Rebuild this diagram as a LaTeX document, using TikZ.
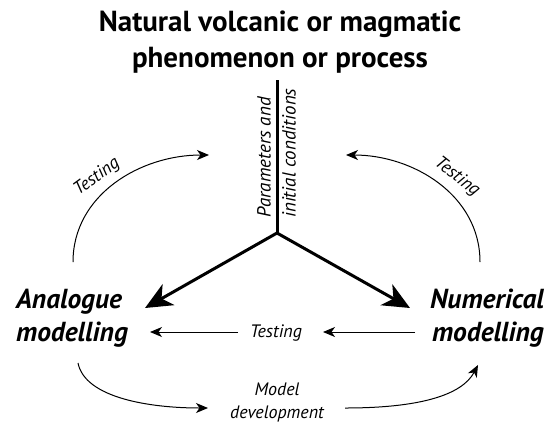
\documentclass[tikz,border=0pt]{standalone}
\usepackage{fontspec}
\setmainfont{PT Sans}
\usetikzlibrary{arrows.meta,positioning}

\begin{document}
\begin{tikzpicture}[x=1pt,y=-1pt,
   lbl/.style={font=\itshape\fontsize{18}{22}\selectfont,inner sep=1pt},
   big/.style={font=\bfseries\itshape\fontsize{27.5}{33}\selectfont,inner sep=0pt},
   thin/.style={-{Stealth[length=12pt,width=10pt,inset=3.5pt]},line width=1pt},
   heavy/.style={-{Stealth[length=27pt,width=24pt,inset=8pt]},line width=3pt}]
   \useasboundingbox (0,0) rectangle (554,424);
   \node[font=\bfseries\fontsize{29}{36}\selectfont,align=center,inner sep=0pt] (nat) at (280,42)
      {Natural volcanic or magmatic\\phenomenon or process};
   \node[big,anchor=west,align=left] (ana) at (16,318) {Analogue\\modelling};
   \node[big,anchor=east,align=right] (num) at (544,318) {Numerical\\modelling};
   \node[lbl] (tmid) at (276,333) {Testing};
   \node[lbl,align=center,font=\itshape\fontsize{18}{23}\selectfont] (dev) at (277,402) {Model\\development};
   \node[lbl,rotate=36] (tl) at (97,177) {Testing};
   \node[lbl,rotate=-38] (tr) at (457,177) {Testing};
   \coordinate (top) at (277,80);
   \coordinate (j) at (277,233);
   \coordinate (ta) at (145,308);
   \coordinate (tn) at (410,308);
   \node[lbl,rotate=90,anchor=south west,font=\itshape\fontsize{19}{22}\selectfont] (par) at (272,219) {Parameters and};
   \node[lbl,rotate=90,anchor=north west,font=\itshape\fontsize{19}{22}\selectfont] (ini) at (281,219) {initial conditions};
   \coordinate (ul) at (73,262);
   \coordinate (ulend) at (209,155);
   \coordinate (ur) at (480,262);
   \coordinate (urend) at (346,155);
   \coordinate (bl) at (78,363);
   \coordinate (blend) at (208,408);
   \coordinate (brst) at (345,408);
   \coordinate (br) at (478,365);
   \draw[line width=3pt] (top) -- (j);
   \draw[heavy] (j) -- (ta);
   \draw[heavy] (j) -- (tn);
   \draw[thin] (415,332) -- (323,332);
   \draw[thin] (238,332) -- (150,332);
   \draw[thin] (ul) .. controls (73,195) and (140,155) .. (ulend);
   \draw[thin] (ur) .. controls (480,195) and (413,155) .. (urend);
   \draw[thin] (bl) .. controls (85,398) and (150,408) .. (blend);
   \draw[thin] (brst) .. controls (420,408) and (462,395) .. (br);
\end{tikzpicture}
\end{document}
